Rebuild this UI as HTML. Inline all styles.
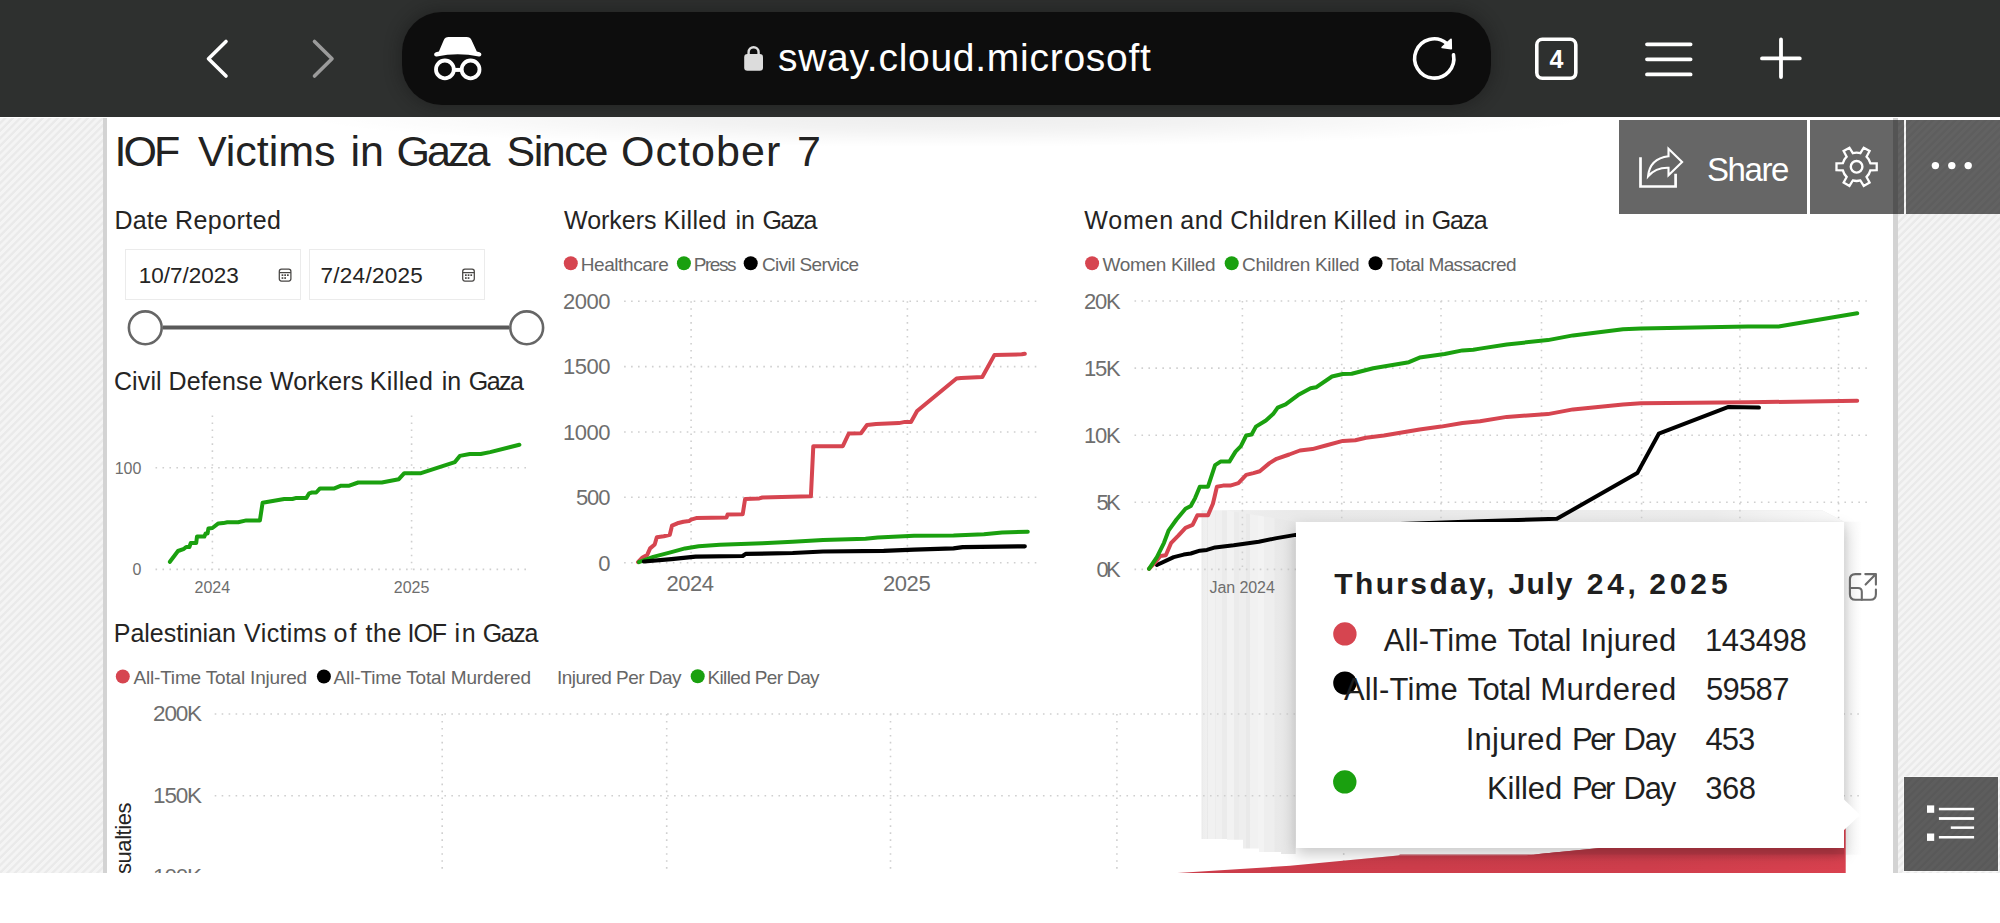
<!DOCTYPE html>
<html lang="en">
<head>
<meta charset="utf-8">
<title>IOF Victims in Gaza Since October 7</title>
<style>
html,body{margin:0;padding:0;}
body{width:2000px;height:923px;overflow:hidden;background:#ffffff;font-family:"Liberation Sans",sans-serif;position:relative;}
.abs{position:absolute;}
.line{position:absolute;left:0;top:0;}
.t{position:absolute;white-space:nowrap;line-height:1;font-family:"Liberation Sans",sans-serif;}
#chrome{position:absolute;left:0;top:0;width:2000px;height:117px;background:#2e302f;}
#urlbar{position:absolute;left:402px;top:12px;width:1089px;height:93px;border-radius:40px;background:#0d0d0d;box-shadow:0 0 14px 4px rgba(20,20,20,.35);}
#content{position:absolute;left:0;top:117px;width:2000px;height:756px;overflow:hidden;background:#fff;}
.stripes{position:absolute;background:repeating-linear-gradient(135deg,#f4f4f4 0,#f4f4f4 2.2px,#eaeaea 3px,#eaeaea 4.6px,#f4f4f4 5.3px);}
#lstripe{left:0;top:1px;width:103px;height:755px;}
#rstripe{left:1898px;top:3px;width:102px;height:753px;}
#lborder{position:absolute;left:103px;top:1px;width:4.2px;height:755px;background:#d3d3d3;}
#rborder{position:absolute;left:1893px;top:1px;width:5px;height:755px;background:#d3d3d3;}
#topshadow{position:absolute;left:300px;top:-30px;width:1300px;height:60px;background:radial-gradient(ellipse 50% 50% at 50% 50%,rgba(0,0,0,.07) 0,rgba(0,0,0,.05) 40%,rgba(0,0,0,.02) 75%,rgba(0,0,0,0) 100%);}
.btn{position:absolute;top:3px;height:93.5px;background:rgba(0,0,0,.6);}
.datebox{position:absolute;top:132.4px;height:50.4px;border:1.6px solid #ebebeb;box-sizing:border-box;background:#fff;}
#tooltip{position:absolute;left:1295.7px;top:404.7px;width:548.5px;height:326.5px;background:#fff;box-shadow:0 6px 14px rgba(0,0,0,.22);}
#listbtn{position:absolute;left:1904px;top:660px;width:94px;height:94px;background:rgba(0,0,0,.62);box-shadow:0 0 0 1px rgba(255,255,255,.45);}
svg{position:absolute;left:0;top:0;overflow:visible;}
</style>
</head>
<body>

<!-- ===== mobile browser chrome ===== -->
<div id="chrome">
  <div id="urlbar"></div>
  <svg width="2000" height="117" viewBox="0 0 2000 117" fill="none">
    <!-- back / forward -->
    <path d="M226 41.5 L208.5 58.7 L226 76" stroke="#fff" stroke-width="3.6" stroke-linecap="round" stroke-linejoin="round"/>
    <path d="M314.5 41.5 L332 58.7 L314.5 76" stroke="#9b9b9b" stroke-width="3.6" stroke-linecap="round" stroke-linejoin="round"/>
    <!-- incognito -->
    <path fill="#fff" d="M448.6 37.1 H466.6 Q470.2 37.1 471.6 40.3 L476.8 51.5 L479.6 52.3 Q481.6 52.9 481.4 54.8 Q481 56.8 478.8 56.4 Q457.8 52.3 436.8 56.4 Q434.5 56.8 434.1 54.8 Q433.9 52.9 435.9 52.3 L438.9 51.5 L443.7 40.3 Q445 37.1 448.6 37.1 Z"/>
    <circle cx="444.9" cy="69.4" r="8.9" stroke="#fff" stroke-width="3.8"/>
    <circle cx="470.6" cy="69.4" r="8.9" stroke="#fff" stroke-width="3.8"/>
    <path d="M453.4 69.9 H462.2" stroke="#fff" stroke-width="4"/>
    <!-- lock -->
    <rect x="744.2" y="54" width="18.8" height="16.8" rx="3.2" fill="#dcdcdc"/>
    <path d="M748.6 55 V52.2 A5 5 0 0 1 758.6 52.2 V55" stroke="#dcdcdc" stroke-width="2.4"/>
    <!-- reload -->
    <path d="M1446.4 43.1 A19.6 19.6 0 1 0 1453.5 54.8" stroke="#fff" stroke-width="3.6" stroke-linecap="round"/>
    <path d="M1442.2 47.3 L1451.2 48.7 L1451 39.4 Z" fill="#fff" stroke="#fff" stroke-width="1.8" stroke-linejoin="round"/>
    <!-- tabs -->
    <rect x="1536.8" y="39.3" width="39" height="39" rx="5.5" stroke="#fff" stroke-width="3.6"/>
    <!-- menu -->
    <path d="M1647 44.3 H1690.6 M1647 59.3 H1690.6 M1647 74.4 H1690.6" stroke="#fff" stroke-width="3.8" stroke-linecap="round"/>
    <!-- plus -->
    <path d="M1762 58.4 H1799.8 M1781 39.4 V77" stroke="#fff" stroke-width="3.8" stroke-linecap="round"/>
  </svg>
</div>

<!-- ===== sway page ===== -->
<div id="content">
  <div id="lstripe" class="stripes"></div>
  <div id="rstripe" class="stripes"></div>
  <div id="lborder"></div>
  <div id="rborder"></div>
  <div id="topshadow"></div>

  <div class="datebox" style="left:125px;width:176px;"></div>
  <div class="datebox" style="left:309px;width:175.5px;"></div>

  <svg id="charts" style="top:-117px" width="2000" height="923" viewBox="0 0 2000 923" fill="none">
  <defs>
    <linearGradient id="ghostg" gradientUnits="userSpaceOnUse" x1="1201" x2="1295.8" y1="0" y2="0">
      <stop offset="0.0000" stop-color="#e4e4e4"/><stop offset="0.0211" stop-color="#eeeeee"/><stop offset="0.0633" stop-color="#f0f0f0"/><stop offset="0.0686" stop-color="#e9e9e9"/><stop offset="0.0791" stop-color="#f1f1f1"/><stop offset="0.1424" stop-color="#f1f1f1"/><stop offset="0.1477" stop-color="#e8e8e8"/><stop offset="0.1582" stop-color="#f0f0f0"/><stop offset="0.2162" stop-color="#f0f0f0"/><stop offset="0.2215" stop-color="#ebebeb"/><stop offset="0.2743" stop-color="#ebebeb"/><stop offset="0.2795" stop-color="#f2f2f2"/><stop offset="0.3428" stop-color="#f2f2f2"/><stop offset="0.3481" stop-color="#ebebeb"/><stop offset="0.3956" stop-color="#ebebeb"/><stop offset="0.4008" stop-color="#eeeeee"/><stop offset="0.4747" stop-color="#eeeeee"/><stop offset="0.4800" stop-color="#e9e9e9"/><stop offset="0.5169" stop-color="#e9e9e9"/><stop offset="0.5222" stop-color="#f1f1f1"/><stop offset="0.5960" stop-color="#f1f1f1"/><stop offset="0.6013" stop-color="#f3f3f3"/><stop offset="0.6593" stop-color="#f3f3f3"/><stop offset="0.6646" stop-color="#eeeeee"/><stop offset="0.7700" stop-color="#eeeeee"/><stop offset="0.7806" stop-color="#e9e9e9"/><stop offset="0.8650" stop-color="#e8e8e8"/><stop offset="1.0000" stop-color="#e6e6e6"/>
    </linearGradient>
    <linearGradient id="bandg" gradientUnits="userSpaceOnUse" x1="1201" x2="1840" y1="0" y2="0">
      <stop offset="0" stop-color="#f1f1f1"/><stop offset=".15" stop-color="#e9e9e9"/><stop offset=".8" stop-color="#ececec"/><stop offset="1" stop-color="#fafafa"/>
    </linearGradient>
    <linearGradient id="stripg" gradientUnits="userSpaceOnUse" x1="1844" x2="1861" y1="0" y2="0"><stop offset="0" stop-color="#f0f0f0"/><stop offset=".3" stop-color="#f7f7f7"/><stop offset="1" stop-color="#fefefe"/></linearGradient>
    <linearGradient id="redg" gradientUnits="userSpaceOnUse" x1="1177" x2="1846" y1="0" y2="0"><stop offset="0" stop-color="#cb3c4a"/><stop offset=".7" stop-color="#cf3e4c"/><stop offset="1" stop-color="#d9414f"/></linearGradient>
    <linearGradient id="redsh" gradientUnits="userSpaceOnUse" x1="0" x2="0" y1="854" y2="862">
      <stop offset="0" stop-color="#b83846" stop-opacity=".55"/><stop offset="1" stop-color="#c53b49" stop-opacity="0"/>
    </linearGradient>
  </defs>

  <!-- stacked ghost tooltips behind everything -->
  <path d="M1201.6 510.2 H1822 L1844 521.7 H1295.7 V854 H1281 V852 H1259 V848.6 H1243 V839.8 H1227 V838.9 H1201.6 Z" fill="url(#ghostg)"/>
  <path d="M1225 510.2 H1822 L1844 521.7 H1295.7 Z" fill="url(#bandg)"/>
  
  <rect x="1844.2" y="521.7" width="17" height="333" fill="url(#stripg)"/>

  <!-- slider -->
  <path d="M163 327.5 H509" stroke="#5a5a5a" stroke-width="4"/>
  <circle cx="145.3" cy="327.8" r="16.4" fill="#fff" stroke="#666" stroke-width="2.6"/>
  <circle cx="526.7" cy="327.8" r="16.4" fill="#fff" stroke="#666" stroke-width="2.6"/>

  <!-- calendar icons -->
  <g stroke="#484644" stroke-width="1.25">
    <rect x="279.3" y="269.2" width="11.6" height="11.8" rx="2.2"/>
    <path d="M279.3 272.6 H290.9"/>
    <rect x="462.7" y="269.2" width="11.6" height="11.8" rx="2.2"/>
    <path d="M462.7 272.6 H474.3"/>
  </g>
  <g fill="#484644">
    <rect x="281.6" y="274.3" width="1.7" height="1.7"/><rect x="284.3" y="274.3" width="1.7" height="1.7"/><rect x="287" y="274.3" width="1.7" height="1.7"/>
    <rect x="281.6" y="277.2" width="1.7" height="1.7"/><rect x="284.3" y="277.2" width="1.7" height="1.7"/>
    <rect x="465" y="274.3" width="1.7" height="1.7"/><rect x="467.7" y="274.3" width="1.7" height="1.7"/><rect x="470.4" y="274.3" width="1.7" height="1.7"/>
    <rect x="465" y="277.2" width="1.7" height="1.7"/><rect x="467.7" y="277.2" width="1.7" height="1.7"/>
  </g>

  <!-- grids -->
  <g stroke="#cfcfcf" stroke-width="1.6" stroke-dasharray="1.6 5.36">
    <!-- civil defense -->
    <path d="M155.5 467.8 H528 M155.5 569.4 H528 M212.4 415.5 V569.4 M411.6 415.5 V569.4"/>
    <!-- workers -->
    <path d="M624.1 301.2 H1038.5 M624.1 366.6 H1038.5 M624.1 432 H1038.5 M624.1 497.3 H1038.5 M624.1 562.7 H1038.5 M691.1 301.2 V562.7 M907.4 301.2 V562.7"/>
    <!-- women and children -->
    <path d="M1134.5 301 H1869 M1134.5 368.1 H1869 M1134.5 435.2 H1869 M1134.5 502.3 H1869 M1134.5 569.4 H1844"/>
    <path d="M1242.4 301 V569.4 M1341.7 301 V569.4 M1441 301 V569.4 M1541.5 301 V569.4 M1641.6 301 V569.4 M1739.9 301 V569.4 M1838.6 301 V569.4"/>
    <!-- bottom chart -->
    <path d="M214.7 714 H1862 M214.7 795.7 H1862 M214.7 877.3 H1862"/>
    <path d="M442.2 714 V880 M666.7 714 V880 M890.5 714 V880 M1116.9 714 V880 M1343.7 714 V880 M1569 714 V880 M1795 714 V880"/>
  </g>

  <!-- bottom chart red area -->
  <path d="M1168 873.6 L1290 865.8 L1340 861 L1398.3 855.6 L1526.2 855.3 L1599.9 848 L1700 830 L1845.7 806 V873.5 Z" fill="url(#redg)"/>
  <path d="M1398.3 855.6 L1526.2 855.3 L1599.9 848 H1844.2 V854.6 H1400 Z" fill="#b93946"/>
  <path d="M1290 865.8 L1340 861 L1398.3 855.6 L1526.2 855.3 L1560 852 L1844.2 854.6 V862 H1290 Z" fill="url(#redsh)"/>

  <!-- civil defense line -->
  <path stroke="#1aa00f" stroke-width="4" stroke-linejoin="round" stroke-linecap="round" d="M169.9 561.8 L178 551 L184 548.8 L186.2 547 L189.4 547 L190.8 542.9 L196.2 542.9 L197 536.6 L204.3 536.6 L205.7 533.4 L207.6 533.4 L208.4 528.5 L212.4 528 L218.4 523.4 L223.3 523.1 L227.3 522.3 L238.2 522.3 L246.3 520.4 L259.9 520.4 L262.6 502.8 L284.2 499 L292.4 499 L296.4 497.9 L306.4 497.9 L309.2 493.3 L311.9 492.5 L316.2 492.5 L320 488.4 L334.4 488.4 L341.1 485.7 L349.3 485.7 L358.2 482.5 L381.8 482.5 L398.8 479.2 L404.3 473.2 L421 473.2 L454.9 462.1 L459.8 455.9 L469.8 454 L480.7 454 L490.1 452.1 L519.4 444.8"/>

  <!-- workers lines -->
  <path stroke="#d64550" stroke-width="4" stroke-linejoin="round" stroke-linecap="round" d="M638 562.1 L642.5 557.5 L647.1 555.1 L650.1 548.4 L654.7 544.5 L656.8 537.2 L663.8 536.3 L669.8 534.8 L672 525.7 L677.4 523.3 L683.5 521.7 L689 521.1 L691.1 519.6 L696.2 518.1 L726.6 517.5 L727.5 514.5 L742.7 514.2 L745.1 499 L759.3 498.4 L762.4 497.5 L810.9 496.3 L813.3 446.2 L842.8 446.2 L848.8 433.5 L861 433.2 L867 425 L876.1 424 L898.9 423.1 L905 421.9 L911 421.9 L917.1 411 L956.5 378.5 L961.1 377.9 L982.3 377 L994.5 354.9 L1021.8 354.3 L1024.8 353.7"/>
  <path stroke="#1aa00f" stroke-width="4" stroke-linejoin="round" stroke-linecap="round" d="M638.9 562.1 L653.2 556.9 L671.4 552.1 L685 548.4 L698.7 546.3 L719.9 544.8 L762.4 543.3 L792.7 541.8 L823.1 540 L865.5 538.7 L877.7 537.5 L914.1 535.7 L953.5 535.4 L983.9 534.2 L1002.1 532.4 L1027.8 531.8"/>
  <path stroke="#000" stroke-width="4.2" stroke-linejoin="round" stroke-linecap="round" d="M644 561.5 L671.4 559.1 L695.6 556.6 L742.7 556 L745.7 553.9 L792.7 553 L823.1 551.5 L883.7 550.9 L914.1 549.7 L953.5 548.4 L962.6 547.2 L1024.8 546.3"/>

  <!-- women and children lines -->
  <path stroke="#000" stroke-width="4" stroke-linejoin="round" stroke-linecap="round" d="M1156.9 565 L1173.7 557.1 L1183.7 554.6 L1190.8 553.5 L1199.8 550.7 L1206.9 549.9 L1215.1 547.4 L1233.7 545.3 L1258.8 541.7 L1276.6 538.1 L1295.6 534.9 L1400 524 L1480 521.3 L1556.9 518.8 L1637.3 473.1 L1658.8 433.7 L1728.5 406.9 L1758.9 407.6"/>
  <path stroke="#d64550" stroke-width="4" stroke-linejoin="round" stroke-linecap="round" d="M1149 568.9 L1155.1 562.4 L1160.4 556 L1165.8 555.3 L1171.2 542.8 L1178.3 535.6 L1185.5 527.8 L1192.6 524.9 L1197.3 515.3 L1208 515.3 L1213 503.5 L1216.9 486.7 L1223 485.6 L1230.2 485.6 L1238.4 483.1 L1246.2 474.9 L1253.4 473.1 L1259.8 471.3 L1269.5 463.1 L1276.6 458.8 L1289.2 454.5 L1299.9 450.5 L1312.4 449.1 L1326.7 445.2 L1342.8 440.9 L1355.3 440.2 L1366 437.7 L1383.9 435.5 L1419.6 429.5 L1441.1 426.6 L1462.5 423 L1480 421.2 L1506.8 416.9 L1547.9 414.1 L1573 409.4 L1623 404.4 L1640.9 403.3 L1748.1 402.3 L1857.2 400.8"/>
  <path stroke="#1aa00f" stroke-width="4" stroke-linejoin="round" stroke-linecap="round" d="M1149 568.9 L1156.9 557.1 L1164 542.8 L1168.7 530.3 L1176.5 519.5 L1185.5 508.8 L1190.8 506 L1195.1 498.1 L1199.8 486.7 L1208 486.7 L1215.1 465.2 L1220.5 461.6 L1229.4 461.6 L1235.5 451.6 L1240.9 446.2 L1246.2 435.5 L1251.6 434.5 L1255.9 426.6 L1265.9 420.5 L1273.1 414.1 L1277.7 407.6 L1285.6 404.4 L1298.1 395.1 L1310.6 388.3 L1316 387.3 L1332 376.5 L1342.8 374 L1351.7 373.7 L1373.2 368.3 L1408.9 362.2 L1419.6 357.6 L1444.7 354 L1462.5 350.4 L1473.3 349.7 L1480 348.6 L1506.8 344.4 L1547.9 340.1 L1573 335.4 L1623 329.3 L1640.9 328.6 L1748.1 326.5 L1778.5 326.5 L1857.2 313.2"/>

  <!-- legend markers -->
  <circle cx="570.8" cy="263.3" r="7" fill="#d64550"/>
  <circle cx="683.9" cy="263.3" r="7" fill="#1aa00f"/>
  <circle cx="750.7" cy="263.3" r="7" fill="#000"/>
  <circle cx="1092.1" cy="263.3" r="7" fill="#d64550"/>
  <circle cx="1231.7" cy="263.3" r="7" fill="#1aa00f"/>
  <circle cx="1375.5" cy="263.3" r="7" fill="#000"/>
  <circle cx="122.8" cy="676.5" r="7" fill="#d64550"/>
  <circle cx="323.9" cy="676.5" r="7" fill="#000"/>
  <circle cx="697.7" cy="676.2" r="7" fill="#1aa00f"/>

  <!-- focus mode icon -->
  <g stroke="#6b6b6b" stroke-width="2.1" stroke-linecap="round" stroke-linejoin="round">
    <path d="M1860.4 574.1 H1855.4 Q1849.9 574.1 1849.9 579.6 V594.3 Q1849.9 599.8 1855.4 599.8 H1870.4 Q1875.9 599.8 1875.9 594.3 V589.5"/>
    <path d="M1849.9 588 H1858 Q1861.8 588 1861.8 591.8 V599.8"/>
    <path d="M1865.6 584.6 L1875.9 574.1 M1865.3 574.1 H1875.9 V584.6"/>
  </g>
</svg>


  <div id="tooltip"></div>
  <svg id="ttmarks" style="top:-117px" width="2000" height="923" viewBox="0 0 2000 923" fill="none">
  <path d="M1843.5 799 L1860.2 815 L1843.5 830.5 Z" fill="#fff"/>
  <circle cx="1344.9" cy="633.9" r="11.7" fill="#d64550"/>
  <circle cx="1344.9" cy="683.1" r="11.7" fill="#000"/>
  <circle cx="1344.8" cy="781.9" r="11.7" fill="#1aa00f"/>
</svg>

<div id="pagetext" class="abs" style="left:0;top:-117px;width:2000px;height:923px;">
<div class="line">
<span class="t" style="left:114.60px;top:127px;font-size:43px;line-height:48px;color:#222;letter-spacing:-2.997px;">IOF</span>
<span class="t" style="left:198.00px;top:127px;font-size:43px;line-height:48px;color:#222;letter-spacing:-0.046px;">Victims</span>
<span class="t" style="left:350.40px;top:127px;font-size:43px;line-height:48px;color:#222;letter-spacing:0.047px;">in</span>
<span class="t" style="left:396.60px;top:127px;font-size:43px;line-height:48px;color:#222;letter-spacing:-3.020px;">Gaza</span>
<span class="t" style="left:506.40px;top:127px;font-size:43px;line-height:48px;color:#222;letter-spacing:-1.412px;">Since</span>
<span class="t" style="left:621.00px;top:127px;font-size:43px;line-height:48px;color:#222;letter-spacing:1.060px;">October</span>
<span class="t" style="left:797.00px;top:127px;font-size:43px;line-height:48px;color:#222;">7</span>
</div>
<div class="line">
<span class="t" style="left:114.40px;top:206px;font-size:25px;line-height:28px;color:#252423;letter-spacing:0.232px;">Date</span>
<span class="t" style="left:175.00px;top:206px;font-size:25px;line-height:28px;color:#252423;letter-spacing:0.437px;">Reported</span>
</div>
<div class="line">
<span class="t" style="left:564.00px;top:206px;font-size:25px;line-height:28px;color:#252423;letter-spacing:-0.017px;">Workers</span>
<span class="t" style="left:663.60px;top:206px;font-size:25px;line-height:28px;color:#252423;letter-spacing:0.352px;">Killed</span>
<span class="t" style="left:735.60px;top:206px;font-size:25px;line-height:28px;color:#252423;letter-spacing:-0.154px;">in</span>
<span class="t" style="left:762.60px;top:206px;font-size:25px;line-height:28px;color:#252423;letter-spacing:-1.617px;">Gaza</span>
</div>
<div class="line">
<span class="t" style="left:1084.30px;top:206px;font-size:25px;line-height:28px;color:#252423;letter-spacing:0.781px;">Women</span>
<span class="t" style="left:1180.30px;top:206px;font-size:25px;line-height:28px;color:#252423;letter-spacing:0.496px;">and</span>
<span class="t" style="left:1230.20px;top:206px;font-size:25px;line-height:28px;color:#252423;letter-spacing:0.529px;">Children</span>
<span class="t" style="left:1333.20px;top:206px;font-size:25px;line-height:28px;color:#252423;letter-spacing:0.412px;">Killed</span>
<span class="t" style="left:1404.40px;top:206px;font-size:25px;line-height:28px;color:#252423;letter-spacing:1.146px;">in</span>
<span class="t" style="left:1431.70px;top:206px;font-size:25px;line-height:28px;color:#252423;letter-spacing:-1.250px;">Gaza</span>
</div>
<div class="t" style="left:138.70px;top:263px;font-size:22.5px;line-height:25px;color:#252423;">10/7/2023</div>
<div class="t" style="left:320.50px;top:263px;font-size:22.5px;line-height:25px;color:#252423;letter-spacing:0.277px;">7/24/2025</div>
<div class="line">
<span class="t" style="left:113.90px;top:367px;font-size:25px;line-height:28px;color:#252423;letter-spacing:0.134px;">Civil</span>
<span class="t" style="left:168.40px;top:367px;font-size:25px;line-height:28px;color:#252423;letter-spacing:0.181px;">Defense</span>
<span class="t" style="left:270.10px;top:367px;font-size:25px;line-height:28px;color:#252423;letter-spacing:0.100px;">Workers</span>
<span class="t" style="left:369.70px;top:367px;font-size:25px;line-height:28px;color:#252423;letter-spacing:0.392px;">Killed</span>
<span class="t" style="left:441.70px;top:367px;font-size:25px;line-height:28px;color:#252423;letter-spacing:0.046px;">in</span>
<span class="t" style="left:468.80px;top:367px;font-size:25px;line-height:28px;color:#252423;letter-spacing:-1.550px;">Gaza</span>
</div>
<div class="t" style="left:114.70px;top:460px;font-size:16px;line-height:17px;color:#6e6e6e;">100</div>
<div class="t" style="left:132.50px;top:561px;font-size:16px;line-height:17px;color:#6e6e6e;">0</div>
<div class="t" style="left:194.55px;top:579px;font-size:16px;line-height:17px;color:#6e6e6e;">2024</div>
<div class="t" style="left:393.75px;top:579px;font-size:16px;line-height:17px;color:#6e6e6e;">2025</div>
<div class="t" style="left:580.70px;top:254px;font-size:19px;line-height:21px;color:#666;letter-spacing:-0.413px;">Healthcare</div>
<div class="t" style="left:693.80px;top:254px;font-size:19px;line-height:21px;color:#666;letter-spacing:-1.492px;">Press</div>
<div class="t" style="left:761.90px;top:254px;font-size:19px;line-height:21px;color:#666;letter-spacing:-0.604px;">Civil Service</div>
<div class="t" style="left:562.90px;top:289px;font-size:22px;line-height:25px;color:#6e6e6e;letter-spacing:-0.435px;">2000</div>
<div class="t" style="left:562.90px;top:354px;font-size:22px;line-height:25px;color:#6e6e6e;letter-spacing:-0.435px;">1500</div>
<div class="t" style="left:562.90px;top:420px;font-size:22px;line-height:25px;color:#6e6e6e;letter-spacing:-0.435px;">1000</div>
<div class="t" style="left:575.90px;top:485px;font-size:22px;line-height:25px;color:#6e6e6e;letter-spacing:-1.035px;">500</div>
<div class="t" style="left:598.30px;top:551px;font-size:22px;line-height:25px;color:#6e6e6e;">0</div>
<div class="t" style="left:666.40px;top:571px;font-size:22px;line-height:25px;color:#6e6e6e;letter-spacing:-0.435px;">2024</div>
<div class="t" style="left:883.00px;top:571px;font-size:22px;line-height:25px;color:#6e6e6e;letter-spacing:-0.435px;">2025</div>
<div class="t" style="left:1102.50px;top:254px;font-size:19px;line-height:21px;color:#666;letter-spacing:-0.336px;">Women Killed</div>
<div class="t" style="left:1242.10px;top:254px;font-size:19px;line-height:21px;color:#666;letter-spacing:-0.353px;">Children Killed</div>
<div class="t" style="left:1386.70px;top:254px;font-size:19px;line-height:21px;color:#666;letter-spacing:-0.612px;">Total Massacred</div>
<div class="t" style="left:1084.00px;top:289px;font-size:22px;line-height:25px;color:#6e6e6e;letter-spacing:-1.235px;">20K</div>
<div class="t" style="left:1084.00px;top:356px;font-size:22px;line-height:25px;color:#6e6e6e;letter-spacing:-1.235px;">15K</div>
<div class="t" style="left:1084.00px;top:423px;font-size:22px;line-height:25px;color:#6e6e6e;letter-spacing:-1.235px;">10K</div>
<div class="t" style="left:1096.50px;top:490px;font-size:22px;line-height:25px;color:#6e6e6e;letter-spacing:-2.735px;">5K</div>
<div class="t" style="left:1096.50px;top:557px;font-size:22px;line-height:25px;color:#6e6e6e;letter-spacing:-2.735px;">0K</div>
<div class="t" style="left:1209.45px;top:579px;font-size:16px;line-height:17px;color:#6e6e6e;letter-spacing:-0.062px;">Jan 2024</div>
<div class="line">
<span class="t" style="left:113.80px;top:619px;font-size:25px;line-height:28px;color:#252423;letter-spacing:-0.020px;">Palestinian</span>
<span class="t" style="left:244.10px;top:619px;font-size:25px;line-height:28px;color:#252423;letter-spacing:0.383px;">Victims</span>
<span class="t" style="left:333.50px;top:619px;font-size:25px;line-height:28px;color:#252423;letter-spacing:1.996px;">of</span>
<span class="t" style="left:365.50px;top:619px;font-size:25px;line-height:28px;color:#252423;letter-spacing:0.525px;">the</span>
<span class="t" style="left:407.50px;top:619px;font-size:25px;line-height:28px;color:#252423;letter-spacing:-1.046px;">IOF</span>
<span class="t" style="left:454.60px;top:619px;font-size:25px;line-height:28px;color:#252423;letter-spacing:1.546px;">in</span>
<span class="t" style="left:482.80px;top:619px;font-size:25px;line-height:28px;color:#252423;letter-spacing:-1.417px;">Gaza</span>
</div>
<div class="t" style="left:133.40px;top:667px;font-size:19px;line-height:21px;color:#666;letter-spacing:-0.175px;">All-Time Total Injured</div>
<div class="t" style="left:333.60px;top:667px;font-size:19px;line-height:21px;color:#666;letter-spacing:-0.145px;">All-Time Total Murdered</div>
<div class="t" style="left:556.90px;top:667px;font-size:19px;line-height:21px;color:#666;letter-spacing:-0.522px;">Injured Per Day</div>
<div class="t" style="left:707.50px;top:667px;font-size:19px;line-height:21px;color:#666;letter-spacing:-0.637px;">Killed Per Day</div>
<div class="t" style="left:153.10px;top:701px;font-size:22.5px;line-height:25px;color:#6e6e6e;letter-spacing:-1.213px;">200K</div>
<div class="t" style="left:153.10px;top:783px;font-size:22.5px;line-height:25px;color:#6e6e6e;letter-spacing:-1.213px;">150K</div>
<div class="t" style="left:153.10px;top:864px;font-size:22.5px;line-height:25px;color:#6e6e6e;letter-spacing:-1.213px;">100K</div>
<div class="line">
<span class="t" style="left:1334.30px;top:567px;font-size:30px;line-height:33px;color:#1f1f1f;letter-spacing:2.350px;font-weight:bold;">Thursday,</span>
<span class="t" style="left:1508.50px;top:567px;font-size:30px;line-height:33px;color:#1f1f1f;letter-spacing:1.285px;font-weight:bold;">July</span>
<span class="t" style="left:1586.80px;top:567px;font-size:30px;line-height:33px;color:#1f1f1f;letter-spacing:3.715px;font-weight:bold;">24,</span>
<span class="t" style="left:1649.20px;top:567px;font-size:30px;line-height:33px;color:#1f1f1f;letter-spacing:3.882px;font-weight:bold;">2025</span>
</div>
<div class="line">
<span class="t" style="left:1383.70px;top:623px;font-size:31px;line-height:35px;color:#1f1f1f;letter-spacing:0.190px;">All-Time</span>
<span class="t" style="left:1507.70px;top:623px;font-size:31px;line-height:35px;color:#1f1f1f;letter-spacing:-0.424px;">Total</span>
<span class="t" style="left:1580.60px;top:623px;font-size:31px;line-height:35px;color:#1f1f1f;letter-spacing:0.126px;">Injured</span>
</div>
<div class="line">
<span class="t" style="left:1343.90px;top:672px;font-size:31px;line-height:35px;color:#1f1f1f;letter-spacing:0.190px;">All-Time</span>
<span class="t" style="left:1467.40px;top:672px;font-size:31px;line-height:35px;color:#1f1f1f;letter-spacing:-0.424px;">Total</span>
<span class="t" style="left:1540.30px;top:672px;font-size:31px;line-height:35px;color:#1f1f1f;letter-spacing:0.452px;">Murdered</span>
</div>
<div class="line">
<span class="t" style="left:1465.70px;top:722px;font-size:31px;line-height:35px;color:#1f1f1f;letter-spacing:0.276px;">Injured</span>
<span class="t" style="left:1571.90px;top:722px;font-size:31px;line-height:35px;color:#1f1f1f;letter-spacing:-2.409px;">Per</span>
<span class="t" style="left:1623.40px;top:722px;font-size:31px;line-height:35px;color:#1f1f1f;letter-spacing:-1.114px;">Day</span>
</div>
<div class="line">
<span class="t" style="left:1486.90px;top:771px;font-size:31px;line-height:35px;color:#1f1f1f;letter-spacing:-0.116px;">Killed</span>
<span class="t" style="left:1571.90px;top:771px;font-size:31px;line-height:35px;color:#1f1f1f;letter-spacing:-2.409px;">Per</span>
<span class="t" style="left:1623.40px;top:771px;font-size:31px;line-height:35px;color:#1f1f1f;letter-spacing:-1.114px;">Day</span>
</div>
<div class="t" style="left:1704.90px;top:623px;font-size:31px;line-height:35px;color:#1f1f1f;letter-spacing:-0.321px;">143498</div>
<div class="t" style="left:1705.90px;top:672px;font-size:31px;line-height:35px;color:#1f1f1f;letter-spacing:-0.666px;">59587</div>
<div class="t" style="left:1705.60px;top:722px;font-size:31px;line-height:35px;color:#1f1f1f;letter-spacing:-0.991px;">453</div>
<div class="t" style="left:1705.20px;top:771px;font-size:31px;line-height:35px;color:#1f1f1f;letter-spacing:-0.491px;">368</div>
<div class="t" style="left:0;top:0;font-size:22px;letter-spacing:-0.45px;color:#252423;transform-origin:0 0;transform:translate(113.2px,901.2px) rotate(-90deg);">Casualties</div>
</div>

  <div class="btn" style="left:1619px;width:188.2px;"></div>
  <div class="btn" style="left:1810px;width:93.6px;"></div>
  <div class="btn" style="left:1906px;width:94px;"></div>
  <div id="listbtn"></div>
  <svg id="swayicons" style="top:-117px" width="2000" height="923" viewBox="0 0 2000 923" fill="none">
  <!-- share -->
  <path d="M1640.5 157.2 V186.5 H1675.6 V173.7" stroke="#fff" stroke-width="2.7" stroke-linejoin="miter"/>
  <path transform="translate(0.8 0)" d="M1667.7 148.8 L1681.3 162 L1667.7 175.2 V167.7 Q1655 167.3 1647.3 176.2 Q1649 158.6 1667.7 156.3 Z" stroke="#fff" stroke-width="2.1" stroke-linejoin="miter"/>
  <!-- gear -->
  <g transform="translate(1856.6 166.8)" stroke="#fff" stroke-width="2.3" stroke-linejoin="miter">
    <path id="gearpath" d="M13.75 -3.56 L20.12 -3.37 L20.12 3.37 L13.75 3.56 A14.20 14.20 0 0 1 9.95 10.13 L12.98 15.74 L7.14 19.11 L3.79 13.68 A14.20 14.20 0 0 1 -3.79 13.68 L-7.14 19.11 L-12.98 15.74 L-9.95 10.13 A14.20 14.20 0 0 1 -13.75 3.56 L-20.12 3.37 L-20.12 -3.37 L-13.75 -3.56 A14.20 14.20 0 0 1 -9.95 -10.13 L-12.98 -15.74 L-7.14 -19.11 L-3.79 -13.68 A14.20 14.20 0 0 1 3.79 -13.68 L7.14 -19.11 L12.98 -15.74 L9.95 -10.13 A14.20 14.20 0 0 1 13.75 -3.56 Z"/>
    <circle cx="0" cy="0" r="5.8" stroke-width="2.4"/>
  </g>
  <!-- more -->
  <circle cx="1935.4" cy="165.6" r="3.7" fill="#fff"/>
  <circle cx="1951.8" cy="165.6" r="3.7" fill="#fff"/>
  <circle cx="1968.2" cy="165.6" r="3.7" fill="#fff"/>
  <!-- navigation list -->
  <g fill="#fff">
    <rect x="1927" y="805.4" width="7.2" height="7.4"/>
    <rect x="1927" y="833.5" width="7.2" height="7.4"/>
    <rect x="1938.9" y="807.8" width="35.2" height="2.5"/>
    <rect x="1938.9" y="817.1" width="35.2" height="2.8"/>
    <rect x="1950.8" y="826.4" width="23.3" height="2.5"/>
    <rect x="1938.9" y="836" width="35.2" height="2.5"/>
  </g>
</svg>

<div id="toptext" class="abs" style="left:0;top:-117px;width:2000px;height:923px;">
<div class="t" style="left:1707.00px;top:151px;font-size:33px;line-height:37px;color:#fff;letter-spacing:-1.427px;">Share</div>
</div>
</div>

<div id="chrometext">
<div class="t" style="left:778.00px;top:36px;font-size:39px;line-height:43px;color:#fff;letter-spacing:0.725px;">sway.cloud.microsoft</div>
<div class="t" style="left:1549.50px;top:45px;font-size:25px;line-height:28px;color:#fff;font-weight:bold;">4</div>
</div>
</body>
</html>
